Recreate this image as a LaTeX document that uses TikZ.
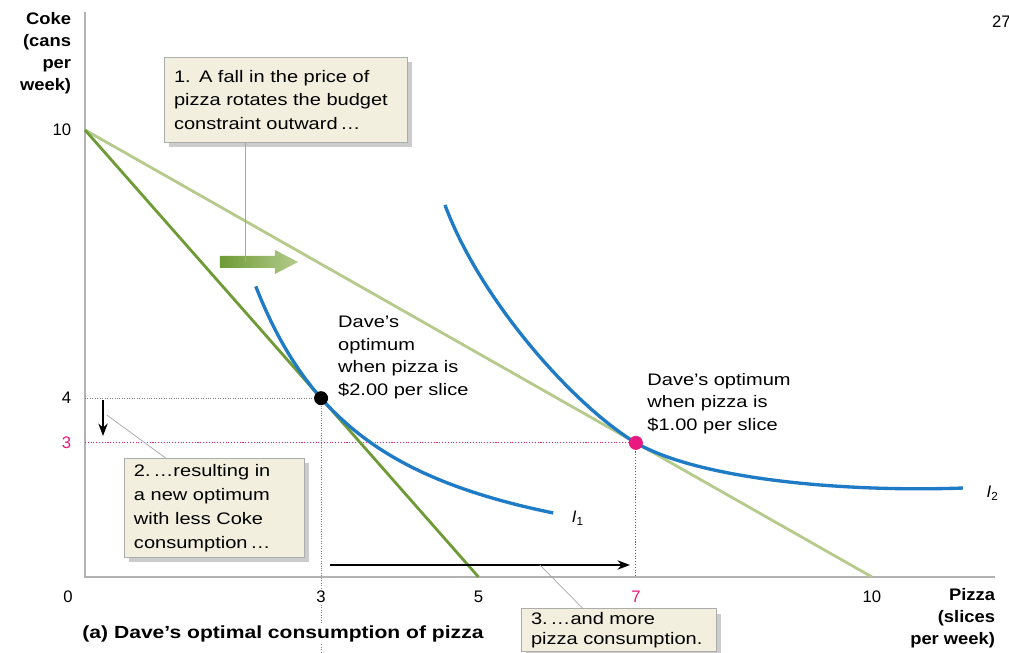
\documentclass[tikz,border=0pt]{standalone}
\usepackage{fontspec}
\setmainfont{Liberation Sans}
\newfontfamily\notefont[FakeStretch=1.2, WordSpace=0.6]{Liberation Sans}
\newfontfamily\widefont[FakeStretch=1.2]{Liberation Sans}
\newfontfamily\axisfont[FakeStretch=1.1]{Liberation Sans}
\usetikzlibrary{shadows,arrows.meta}
\definecolor{oldbudget}{HTML}{6E9B36}
\definecolor{newbudget}{HTML}{B4CB8C}
\definecolor{icurve}{HTML}{1F7BC6}
\definecolor{hotpink}{HTML}{E8197F}
\definecolor{notebg}{HTML}{F2EFDE}
\begin{document}
\begin{tikzpicture}[x=1.574cm, y=0.894cm,
	every node/.style={font=\fontsize{9.5}{13}\selectfont, inner sep=1pt},
	axislab/.style={font=\axisfont\fontsize{9.5}{12.5}\selectfont\bfseries, align=right},
	note/.style={draw=gray!65, fill=notebg, align=left, inner xsep=0.2cm, anchor=north,
		font=\notefont\fontsize{9.5}{13.6}\selectfont,
		drop shadow={shadow xshift=0.1cm, shadow yshift=-0.1cm, fill=gray!40, opacity=1}},
	optlab/.style={anchor=north west, align=left, font=\notefont\fontsize{9.5}{12.8}\selectfont},
	leader/.style={gray!70, thin},
	budget/.style={line width=1.6pt},
	indiff/.style={icurve, line width=1.9pt},
	optdot/.style={circle, minimum size=0.28cm, inner sep=0pt}]
	\useasboundingbox (-1.080,-1.700) rectangle (11.741,12.908);
	\draw[gray!60, line width=1.1pt] (0,12.64) -- (0,0) -- (11.56,0);
	\node[axislab, anchor=east] (ylab) at (-0.15,11.72) {Coke\\(cans\\per\\week)};
	\node[axislab, anchor=north east] (xlab) at (11.59,-0.2) {Pizza\\(slices\\per week)};
	\node[anchor=west] (page) at (11.5,12.42) {27};
	\node[anchor=east] (y10) at (-0.15,10) {10};
	\node[anchor=east] (y4) at (-0.15,4) {4};
	\node[anchor=east, text=hotpink] (y3) at (-0.15,3) {3};
	\node (x0) at (-0.216,-0.447) {0};
	\node (x5) at (5,-0.447) {5};
	\node[text=hotpink] (x7) at (7,-0.447) {7};
	\node (x10) at (10,-0.447) {10};
	\draw[gray, densely dotted] (0,4) -- (3,4) -- (3,-1.7);
	\draw[hotpink, densely dotted, line width=0.6pt] (0,3) -- (7,3) -- (7,0);
	\node[fill=white] (x3) at (3,-0.447) {3};
	\node[fill=white, font=\widefont\fontsize{10}{12}\selectfont\bfseries] (title) at (2.516,-1.275) {(a) Dave’s optimal consumption of pizza};
	\draw[budget, newbudget] (0,10) -- (10,0);
	\draw[budget, oldbudget] (0,10) -- (5,0);
	\draw[indiff] plot[domain=2.17:5.95, samples=60, smooth] (\x,{4*(3/\x)^1.5});
	\draw[indiff] (4.574,8.322) .. controls (5.02,6.2) and (6.2,3.85) .. (7,3) .. controls (7.85,2.15) and (9.72,1.9) .. (11.156,1.99);
	\node[anchor=west] (i1) at (6.16,1.32) {\textit{I}\textsubscript{1}};
	\node[anchor=west] (i2) at (11.43,1.88) {\textit{I}\textsubscript{2}};
	\node[optdot, fill=black] (opt1) at (3,4) {};
	\node[optdot, fill=hotpink] (opt2) at (7,3) {};
	\node[optlab] (lab1) at (3.19,5.88) {Dave’s\\optimum\\when pizza is\\\$2.00 per slice};
	\node[optlab] (lab2) at (7.12,4.61) {Dave’s optimum\\when pizza is\\\$1.00 per slice};
	\shade[left color=oldbudget, right color=newbudget] (1.715,7.181) -- (2.414,7.181) -- (2.414,7.315) -- (2.707,7.047) -- (2.414,6.779) -- (2.414,6.913) -- (1.715,6.913) -- cycle;
	\coordinate (shiftpt) at (2.033,7.047);
	\node[note, text width=4.46cm, minimum height=1.7cm] (box1) at (2.548,11.63) {1. A fall in the price of\\pizza rotates the budget\\constraint outward\,\ldots};
	\draw[leader] (box1.south -| shiftpt) -- (shiftpt);
	\draw[-{Stealth[length=2.5mm]}, thick] (0.229,3.96) -- (0.229,3.154);
	\coordinate (downpt) at (0.28,3.62);
	\node[note, text width=3.2cm, minimum height=1.98cm] (box2) at (1.639,2.662) {2.\,\ldots resulting in\\a new optimum\\with less Coke\\consumption\,\ldots};
	\draw[leader] (downpt) -- ([xshift=0.84cm]box2.north west);
	\draw[-{Stealth[length=2.5mm]}, thick] (3.113,0.268) -- (6.925,0.268);
	\coordinate (rightpt) at (5.781,0.268);
	\node[note, text width=3.5cm, inner ysep=2pt, font=\notefont\fontsize{9.5}{11.5}\selectfont] (box3) at (6.779,-0.7) {3.\,\ldots and more\\pizza consumption.};
	\draw[leader] (rightpt) -- ([xshift=1.24cm]box3.north west);
\end{tikzpicture}
\end{document}
